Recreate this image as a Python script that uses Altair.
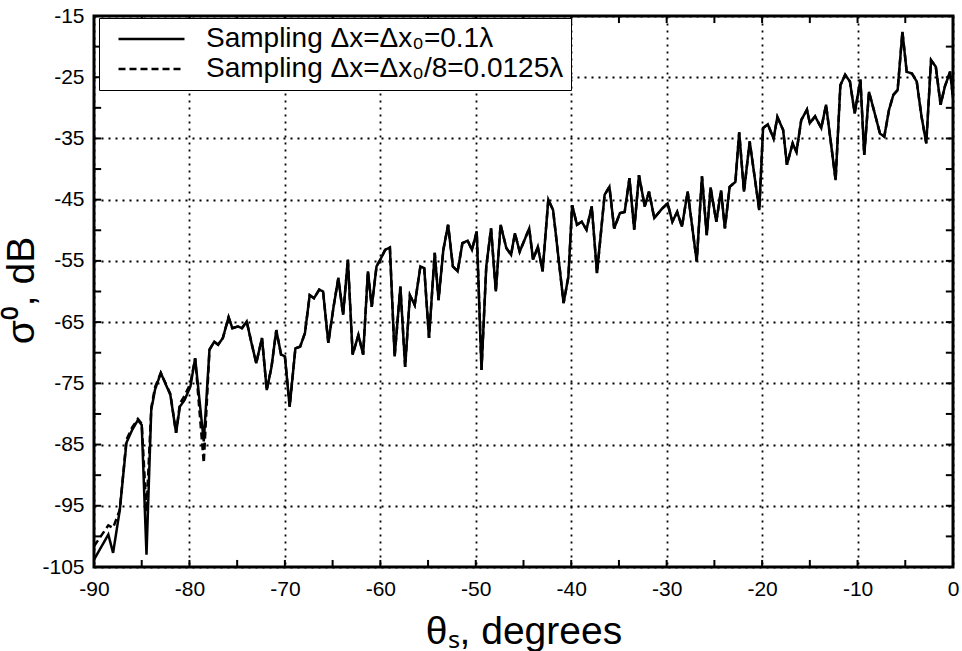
import altair as alt
import pandas as pd

# Scattering angle (degrees) for each vertex
theta = [-90.0, -88.5, -88.0, -87.3, -86.6, -86.0, -85.4, -85.0, -84.5, -84.0,
         -83.6, -83.0, -82.0, -81.4, -81.0, -80.5, -79.9, -79.4, -78.5, -77.9,
         -77.4, -77.0, -76.5, -75.9, -75.5, -74.9, -74.5, -74.0, -73.5, -73.0,
         -72.4, -71.9, -71.4, -70.9, -70.4, -70.0, -69.5, -68.9, -68.4, -67.9,
         -67.4, -66.95, -66.4, -66.0, -65.45, -64.9, -64.4, -63.9, -63.4, -62.9,
         -62.3, -61.8, -61.3, -60.9, -60.4, -60.0, -59.5, -59.0, -58.5, -57.9,
         -57.4, -56.9, -56.4, -55.8, -55.4, -54.9, -54.3, -53.9, -53.4, -52.9,
         -52.4, -51.9, -51.4, -50.85, -50.4, -49.9, -49.4, -48.9, -48.4, -47.9,
         -47.4, -46.8, -46.3, -45.9, -45.4, -44.4, -44.0, -43.5, -43.0, -42.4,
         -41.9, -40.8, -40.3, -39.9, -39.4, -38.9, -38.4, -37.85, -37.3, -36.5,
         -36.0, -35.5, -34.9, -34.4, -33.9, -33.4, -32.9, -32.3, -31.85, -31.3,
         -30.5, -29.9, -29.4, -28.9, -28.4, -27.8, -26.85, -26.3, -25.8, -25.4,
         -24.8, -24.3, -23.9, -23.4, -22.8, -22.4, -21.9, -21.3, -20.3, -19.9,
         -19.4, -18.8, -18.4, -17.8, -17.4, -16.8, -16.4, -15.9, -15.3, -15.0,
         -14.45, -13.8, -13.3, -12.3, -11.8, -11.3, -10.8, -10.3, -9.7, -9.3,
         -8.8, -8.2, -7.65, -7.2, -6.7, -6.25, -5.8, -5.3, -4.85, -4.3,
         -3.8, -3.3, -2.8, -2.3, -1.8, -1.3, -0.85, -0.3, 0.0]

# Sampling dx = dx0 = 0.1 lambda (solid)
sigma_coarse = [-103.8, -99.7, -102.7, -95.7, -84.7, -82.6, -81.0, -81.8, -103.0, -79.3,
                -76.0, -73.3, -76.9, -83.1, -78.8, -77.7, -75.5, -70.9, -84.5, -69.5,
                -68.2, -68.7, -67.6, -64.2, -66.0, -65.7, -66.0, -64.9, -68.4, -71.7,
                -67.6, -76.1, -72.3, -66.3, -70.3, -70.6, -78.8, -69.3, -69.0, -66.8,
                -60.6, -61.1, -59.7, -60.0, -68.4, -62.5, -57.8, -63.8, -54.8, -70.3,
                -67.1, -70.3, -56.7, -62.5, -55.9, -54.8, -53.2, -52.8, -70.6, -59.2,
                -72.3, -60.6, -62.2, -55.9, -56.2, -67.6, -53.7, -61.4, -53.2, -49.1,
                -55.9, -56.7, -52.1, -51.7, -53.2, -50.2, -72.8, -55.9, -49.7, -60.0,
                -49.1, -52.9, -54.0, -50.5, -53.5, -49.7, -54.8, -52.7, -56.7, -45.0,
                -46.7, -61.9, -57.6, -45.9, -49.1, -48.6, -49.9, -46.1, -57.0, -44.2,
                -42.9, -49.7, -47.2, -47.0, -41.5, -49.9, -41.0, -46.1, -43.7, -48.0,
                -46.5, -45.6, -48.6, -47.0, -49.4, -43.7, -55.1, -41.2, -50.8, -43.0,
                -48.6, -43.5, -49.7, -42.9, -42.1, -34.0, -43.7, -35.5, -46.7, -33.3,
                -32.7, -35.0, -31.5, -33.6, -39.3, -35.8, -37.2, -32.0, -30.3, -32.5,
                -31.4, -33.3, -29.5, -41.8, -26.3, -24.6, -25.7, -30.9, -25.4, -37.7,
                -27.4, -30.9, -34.2, -34.7, -30.3, -27.9, -27.1, -17.6, -24.1, -24.4,
                -25.7, -31.4, -35.8, -22.2, -23.3, -29.5, -26.5, -24.1, -28.4]

# Sampling dx = dx0/8 = 0.0125 lambda (dashed)
sigma_fine = [-101.6, -98.2, -98.6, -95.7, -84.2, -82.2, -80.8, -81.6, -96.0, -79.0,
              -75.6, -73.3, -76.7, -83.1, -78.3, -77.0, -75.0, -70.9, -88.0, -69.5,
              -68.2, -68.7, -67.6, -64.2, -66.0, -65.7, -66.0, -64.9, -68.4, -71.7,
              -67.6, -76.1, -72.3, -66.3, -70.3, -70.6, -78.8, -69.3, -69.0, -66.8,
              -60.6, -61.1, -59.7, -60.0, -68.4, -62.5, -57.8, -63.8, -54.8, -70.3,
              -67.1, -70.3, -56.7, -62.5, -55.9, -54.8, -53.2, -52.8, -70.6, -59.2,
              -72.3, -60.6, -62.2, -55.9, -56.2, -67.6, -53.7, -61.4, -53.2, -49.1,
              -55.9, -56.7, -52.1, -51.7, -53.2, -50.2, -72.8, -55.9, -49.7, -60.0,
              -49.1, -52.9, -54.0, -50.5, -53.5, -49.7, -54.8, -52.7, -56.7, -45.0,
              -46.7, -61.9, -57.6, -45.9, -49.1, -48.6, -49.9, -46.1, -57.0, -44.2,
              -42.9, -49.7, -47.2, -47.0, -41.5, -49.9, -41.0, -46.1, -43.7, -48.0,
              -46.5, -45.6, -48.6, -47.0, -49.4, -43.7, -55.1, -41.2, -50.8, -43.0,
              -48.6, -43.5, -49.7, -42.9, -42.1, -34.0, -43.7, -35.5, -46.7, -33.3,
              -32.7, -35.0, -31.5, -33.6, -39.3, -35.8, -37.2, -32.0, -30.3, -32.5,
              -31.4, -33.3, -29.5, -41.8, -26.3, -24.6, -25.7, -30.9, -25.4, -37.7,
              -27.4, -30.9, -34.2, -34.7, -30.3, -27.9, -27.1, -17.6, -24.1, -24.4,
              -25.7, -31.4, -35.8, -22.2, -23.3, -29.5, -26.5, -24.1, -28.4]

series_names = ["Sampling \u0394x=\u0394x\u2080=0.1\u03bb",
                "Sampling \u0394x=\u0394x\u2080/8=0.0125\u03bb"]

x_labels = [-90, -80, -70, -60, -50, -40, -30, -20, -10, 0]
y_labels = [-15, -25, -35, -45, -55, -65, -75, -85, -95, -105]
x_minor = [-85, -80, -75, -70, -65, -60, -55, -50, -45, -40, -35, -30,
           -25, -20, -15, -10, -5]
y_minor = [-100, -95, -90, -85, -80, -75, -70, -65, -60, -55, -50, -45,
           -40, -35, -30, -25, -20]

FONT = "Liberation Sans"

df = pd.concat([
    pd.DataFrame({"theta": theta, "sigma": sigma_coarse, "series": series_names[0], "order": range(len(theta))}),
    pd.DataFrame({"theta": theta, "sigma": sigma_fine, "series": series_names[1], "order": range(len(theta))}),
])

xscale = alt.Scale(domain=[-90, 0], nice=False, zero=False)
yscale = alt.Scale(domain=[-105, -15], nice=False, zero=False)

label_expr = "replace(datum.label, '\u2212', '-')"
common_axis = dict(labelFontSize=21, titleFontSize=39, titleFontWeight="normal", ticks=False,
                   domain=False, grid=True, gridDash=[2, 5], gridColor="black", gridWidth=1.8,
                   gridOpacity=1, labelColor="black", titleColor="black",
                   labelFont=FONT, titleFont=FONT, labelFlush=False, labelExpr=label_expr)

# inner tick marks on all four sides of the frame
bottom_ticks = pd.DataFrame({"t": x_minor, "a": -105.0, "b": -103.85})
top_ticks = pd.DataFrame({"t": x_minor, "a": -15.0, "b": -16.15})
left_ticks = pd.DataFrame({"t": y_minor, "a": -90.0, "b": -89.25})
right_ticks = pd.DataFrame({"t": y_minor, "a": 0.0, "b": -0.75})

tick_style = dict(color="black", strokeWidth=2)
tb = alt.Chart(bottom_ticks).mark_rule(**tick_style).encode(
    x=alt.X("t:Q", scale=xscale,
            axis=alt.Axis(values=x_labels, title="\u03b8\u209b, degrees", labelPadding=11,
                          titleY=64, titleBaseline="middle", **common_axis)),
    y=alt.Y("a:Q", scale=yscale,
            axis=alt.Axis(values=y_labels, title="\u03c3\u2070, dB", labelPadding=10,
                          titleX=-73, titleY=274, titleAngle=270, titleAlign="center",
                          titleBaseline="middle", **common_axis)),
    y2="b:Q")
tt = alt.Chart(top_ticks).mark_rule(**tick_style).encode(
    x=alt.X("t:Q", scale=xscale), y=alt.Y("a:Q", scale=yscale), y2="b:Q")
tl = alt.Chart(left_ticks).mark_rule(**tick_style).encode(
    y=alt.Y("t:Q", scale=yscale), x=alt.X("a:Q", scale=xscale), x2="b:Q")
tr = alt.Chart(right_ticks).mark_rule(**tick_style).encode(
    y=alt.Y("t:Q", scale=yscale), x=alt.X("a:Q", scale=xscale), x2="b:Q")

lines = alt.Chart(df).mark_line(color="black", strokeWidth=2.5, clip=True).encode(
    x=alt.X("theta:Q", scale=xscale),
    y=alt.Y("sigma:Q", scale=yscale),
    strokeDash=alt.StrokeDash("series:N",
                              scale=alt.Scale(domain=series_names, range=[[1, 0], [7, 4]]),
                              sort=series_names,
                              legend=alt.Legend(title=None, orient="none", legendX=5, legendY=2,
                                                symbolType="stroke", symbolSize=4356,
                                                symbolStrokeColor="black", symbolStrokeWidth=2.5,
                                                symbolOffset=11, clipHeight=28,
                                                labelFontSize=28, labelFont=FONT, labelColor="black",
                                                labelOffset=20, rowPadding=2,
                                                strokeColor="black", padding=7,
                                                fillColor="white", labelLimit=600)),
    order="order:Q",
)

chart = alt.layer(tb, tt, tl, tr, lines).properties(
    width=859, height=551,
    autosize=alt.AutoSizeParams(type="none"),
    padding={"left": 94, "top": 16, "right": 9, "bottom": 84},
    background="white",
).configure_view(stroke="black", strokeWidth=3)

chart.save("out.html", embed_options={"renderer": "svg", "actions": False})
